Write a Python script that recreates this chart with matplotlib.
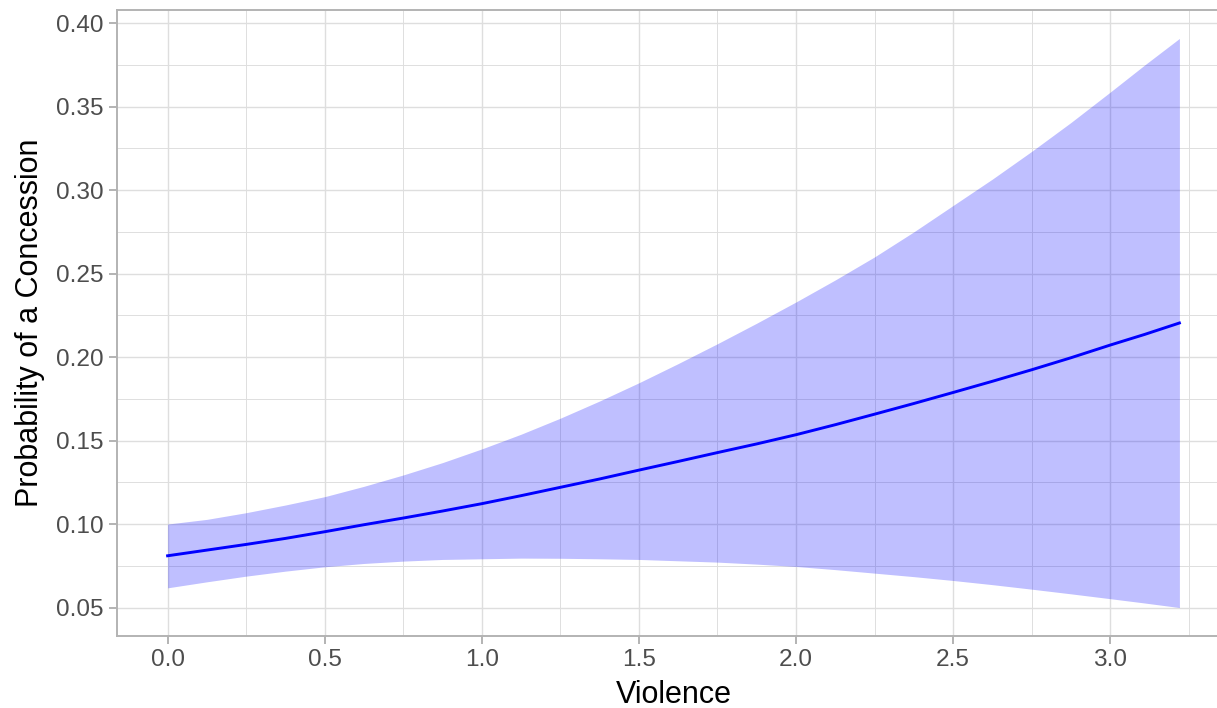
import matplotlib
matplotlib.use("Agg")
import matplotlib.pyplot as plt
from matplotlib.ticker import MultipleLocator

# predicted probability of a concession vs violence, with confidence band
violence = [0.0, 0.125, 0.25, 0.375, 0.5, 0.625, 0.75, 0.875, 1.0, 1.125, 1.25, 1.375, 1.5,
            1.625, 1.75, 1.875, 2.0, 2.125, 2.25, 2.375, 2.5, 2.625, 2.75, 2.875, 3.0, 3.11, 3.22]
prob = [0.0810, 0.0844, 0.0878, 0.0914, 0.0954, 0.0996, 0.1036, 0.1078, 0.1122, 0.1170,
        0.1220, 0.1270, 0.1323, 0.1375, 0.1428, 0.1480, 0.1535, 0.1595, 0.1658, 0.1722,
        0.1788, 0.1855, 0.1924, 0.1996, 0.2072, 0.2136, 0.2204]
upper = [0.1000, 0.1028, 0.1068, 0.1114, 0.1164, 0.1226, 0.1294, 0.1368, 0.1450, 0.1538,
         0.1634, 0.1737, 0.1846, 0.1961, 0.2080, 0.2203, 0.2330, 0.2462, 0.2600, 0.2750,
         0.2908, 0.3066, 0.3232, 0.3405, 0.3587, 0.3750, 0.3908]
lower = [0.0618, 0.0654, 0.0688, 0.0718, 0.0744, 0.0764, 0.0778, 0.0788, 0.0792, 0.0796,
         0.0795, 0.0792, 0.0788, 0.0780, 0.0772, 0.0760, 0.0746, 0.0727, 0.0706, 0.0685,
         0.0662, 0.0637, 0.0610, 0.0582, 0.0553, 0.0527, 0.0500]

plt.rcParams["font.family"] = ["Liberation Sans", "DejaVu Sans"]

W, H = 1217, 708
fig = plt.figure(figsize=(W / 100, H / 100), dpi=100)
# panel in pixels: left 117, top 10, bottom 636, right edge runs past the image
ax = fig.add_axes([117 / W, (H - 636) / H, (1230 - 117) / W, (636 - 10) / H])

ax.fill_between(violence, lower, upper, color="blue", alpha=0.25, linewidth=0, zorder=2)
ax.plot(violence, prob, color="blue", linewidth=2.1, zorder=3)

# ggplot-style 5% expansion
xr = max(violence) - min(violence)
ax.set_xlim(min(violence) - 0.05 * xr, max(violence) + 0.05 * xr)
yr = max(upper) - min(lower)
ax.set_ylim(min(lower) - 0.05 * yr, max(upper) + 0.05 * yr)

ax.xaxis.set_major_locator(MultipleLocator(0.5))
ax.xaxis.set_minor_locator(MultipleLocator(0.25))
ax.yaxis.set_major_locator(MultipleLocator(0.05))
ax.yaxis.set_minor_locator(MultipleLocator(0.025))
ax.xaxis.set_major_formatter(lambda v, p: f"{v:.1f}")
ax.yaxis.set_major_formatter(lambda v, p: f"{v:.2f}")

ax.set_axisbelow(True)
ax.grid(which="major", color="#DEDEDE", linewidth=1.0, zorder=0)
ax.grid(which="minor", color="#DEDEDE", linewidth=0.7, zorder=0)

for s in ax.spines.values():
    s.set_color("#B3B3B3")
    s.set_linewidth(1.4)

ax.tick_params(which="major", length=5.5, width=1.4, color="#B3B3B3",
               labelsize=17.6, labelcolor="#4D4D4D", pad=4)
ax.tick_params(which="minor", length=0)

ax.set_xlabel("Violence", fontsize=22, color="black", labelpad=6)
ax.set_ylabel("Probability of a Concession", fontsize=22, color="black", labelpad=8)

fig.savefig("out.png", dpi=100)
